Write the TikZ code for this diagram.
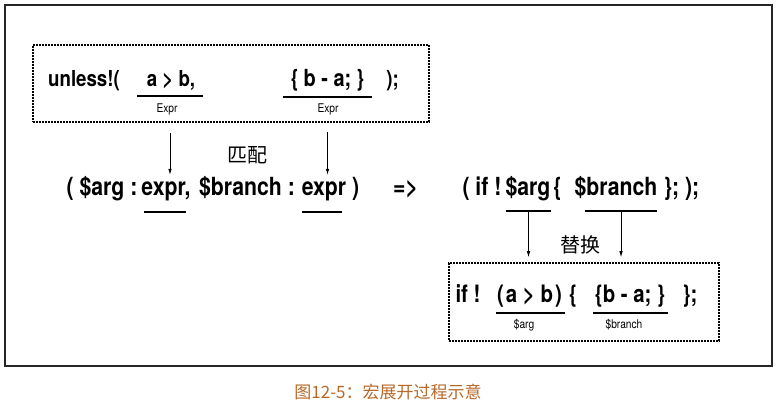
\documentclass[tikz,border=0pt]{standalone}
\usepackage{fontspec}
\usetikzlibrary{arrows.meta}
\newfontfamily\codefont[FakeStretch=0.85]{TeX Gyre Heros}
\newfontfamily\cjkfont{Noto Sans CJK SC}
\definecolor{capbrown}{RGB}{184,104,40}

\begin{document}
\begin{tikzpicture}[
  x=1pt, y=-1pt,
  code/.style={inner sep=2pt, text height=18pt, text depth=5pt, anchor=base,
    font=\codefont\bfseries\fontsize{25}{28}\selectfont},
  codesm/.style={code, text height=16pt, font=\codefont\bfseries\fontsize{22}{25}\selectfont},
  codemd/.style={code, text height=17pt, font=\codefont\bfseries\fontsize{24}{27}\selectfont},
  lab/.style={inner sep=0pt, font=\codefont\fontsize{12}{14}\selectfont},
  bar/.style={fill=black, inner sep=0pt, minimum height=1.8pt},
  dotbox/.style={draw, line width=1.6pt, dash pattern=on 1.6pt off 1.4pt, inner sep=0pt},
  cjk/.style={inner sep=0pt, font=\cjkfont\fontsize{20}{22}\selectfont},
  arr/.style={-{Latex[length=6pt,width=3.5pt]}, line width=0.7pt}
]
\fill[white] (0,0) rectangle (778,404);
\draw[line width=2.4pt, black!85] (5,5) rectangle (772,366);

\node[dotbox, minimum width=396, minimum height=77] (src) at (231,83.5) {};
\node[codesm] (kw) at (84,86) {unless!(};
\node[codesm] (cond) at (171,86) {a > b,};
\node[codesm, font=\codefont\bfseries\fontsize{23.5}{26}\selectfont] (body) at (327.5,86) {\{\hspace{5pt}b - a;\hspace{5pt}\}};
\node[codesm] (cl) at (392.5,86) {);};
\node[bar, minimum width=66] (ucond) at (170,96) {};
\node[bar, minimum width=89] (ubody) at (327.5,97) {};
\node[lab] (econd) at (167,109) {Expr};
\node[lab] (ebody) at (328,109) {Expr};

\node[code] (lp) at (102,195) {( \$arg :};
\node[code] (ea) at (166,195) {expr,};
\node[code] (br) at (247,195) {\$branch :};
\node[code] (eb) at (330.5,195) {expr )};
\node[code] (to) at (405.5,195) {=>};
\node[bar, minimum width=42] (uea) at (165,212) {};
\node[bar, minimum width=40] (ueb) at (322,212) {};
\node[cjk] (match) at (247,155) {匹配};

\draw[arr, shorten <=10pt] (src.south -| ucond) -- (ucond |- ea.north);
\draw[arr, shorten <=9pt] (src.south -| ubody) -- (ubody |- eb.north);

\node[code] (rp) at (482,195) {( if !};
\node[code] (va) at (528,195) {\$arg};
\node[code] (lb) at (557.5,195) {\{};
\node[code] (vb) at (616,195) {\$branch};
\node[code] (rc) at (681.5,195) {\}; );};
\node[bar, minimum width=45] (uva) at (528.5,211) {};
\node[bar, minimum width=72] (uvb) at (621,211) {};
\node[cjk] (subst) at (580,245) {替换};

\node[dotbox, minimum width=270, minimum height=78] (dst) at (584,302) {};
\node[codemd] (bif) at (468,302) {if !};
\node[codemd] (bcond) at (529.5,302) {(\hspace{2pt}a > b\hspace{2pt})};
\node[codemd] (bl) at (573,302) {\{};
\node[codemd] (bbody) at (630,302) {\{b - a; \}};
\node[codemd] (bend) at (690,302) {\};};
\node[bar, minimum width=69] (ubc) at (530.5,313) {};
\node[bar, minimum width=75] (ubb) at (630.5,313) {};
\node[lab] (larg) at (524,325) {\$arg};
\node[lab] (lbranch) at (624,325) {\$branch};

\draw[arr, shorten >=5pt] (uva) -- (uva |- dst.north);
\draw[arr, shorten >=5pt] (uvb) -- (uvb |- dst.north);

\node[font=\cjkfont\fontsize{17}{20}\selectfont, text=capbrown, inner sep=0pt] (cap) at (388,392) {图12-5：宏展开过程示意};
\end{tikzpicture}
\end{document}
